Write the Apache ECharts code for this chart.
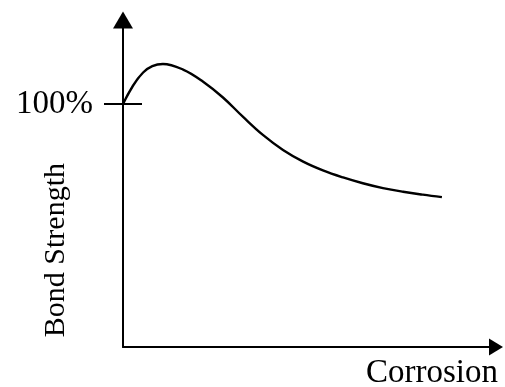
<!DOCTYPE html>
<html>
<head>
<meta charset="utf-8">
<script src="https://cdn.jsdelivr.net/npm/echarts@6/dist/echarts.min.js"></script>
<style>
  html, body { margin: 0; padding: 0; background: #fff; }
  #main { width: 505px; height: 387px; }
</style>
</head>
<body>
<div id="main"></div>
<script>
// corrosion level (relative units) and bond strength (% of uncorroded)
var corrosion = [0, 5.4, 10.7, 16.1, 21.4, 26.8, 32.2, 37.5, 42.9, 48.3, 53.6, 59.0, 64.3, 69.7, 75.1, 80.4, 85.5];
var bondStrength = [100, 113.0, 116.5, 114.2, 109.3, 102.7, 94.7, 87.3, 81.1, 76.3, 72.7, 69.8, 67.4, 65.4, 63.9, 62.7, 61.7];
var yTicks = [100];

var serif = "'Liberation Serif', 'DejaVu Serif', serif";
var myChart = echarts.init(document.getElementById('main'));

var points = corrosion.map(function (c, i) { return [c, bondStrength[i]]; });

option = {
    animation: false,
    grid: {
        left: 123,
        right: 9,
        top: 20,
        bottom: 40,
        outerBoundsMode: 'none'
    },
    xAxis: {
        type: 'value',
        min: 0,
        max: 100,
        name: 'Corrosion',
        nameLocation: 'end',
        nameGap: 2,
        nameTextStyle: {
            fontFamily: serif,
            fontSize: 33,
            color: '#000',
            align: 'right',
            verticalAlign: 'top',
            padding: [10, 0, 0, 0]
        },
        axisLine: {
            symbol: ['none', 'triangle'],
            symbolSize: [17, 14],
            lineStyle: { color: '#000', width: 2 }
        },
        axisTick: { show: false },
        axisLabel: { show: false },
        splitLine: { show: false }
    },
    yAxis: [{
        type: 'value',
        min: 0,
        max: 134.6,
        axisLine: {
            symbol: ['none', 'triangle'],
            symbolSize: [20, 17],
            lineStyle: { color: '#000', width: 2 }
        },
        axisTick: {
            show: true,
            customValues: yTicks,
            length: 19,
            lineStyle: { color: '#000', width: 2 }
        },
        axisLabel: {
            customValues: yTicks,
            formatter: '{value}%',
            margin: 30,
            fontFamily: serif,
            fontSize: 33,
            color: '#000'
        },
        splitLine: { show: false }
    }, {
        type: 'value',
        position: 'left',
        min: 0,
        max: 134.6,
        axisLine: { show: false },
        axisTick: {
            show: true,
            inside: true,
            customValues: yTicks,
            length: 19,
            lineStyle: { color: '#000', width: 2 }
        },
        axisLabel: { show: false },
        splitLine: { show: false }
    }],
    graphic: [{
        type: 'text',
        left: 41,
        top: 163,
        rotation: Math.PI / 2,
        style: {
            text: 'Bond Strength',
            font: '30px ' + serif,
            fill: '#000'
        }
    }],
    series: [{
        type: 'line',
        data: points,
        smooth: 0.4,
        showSymbol: false,
        lineStyle: { color: '#000', width: 2.4 }
    }]
};

myChart.setOption(option);
</script>
</body>
</html>
